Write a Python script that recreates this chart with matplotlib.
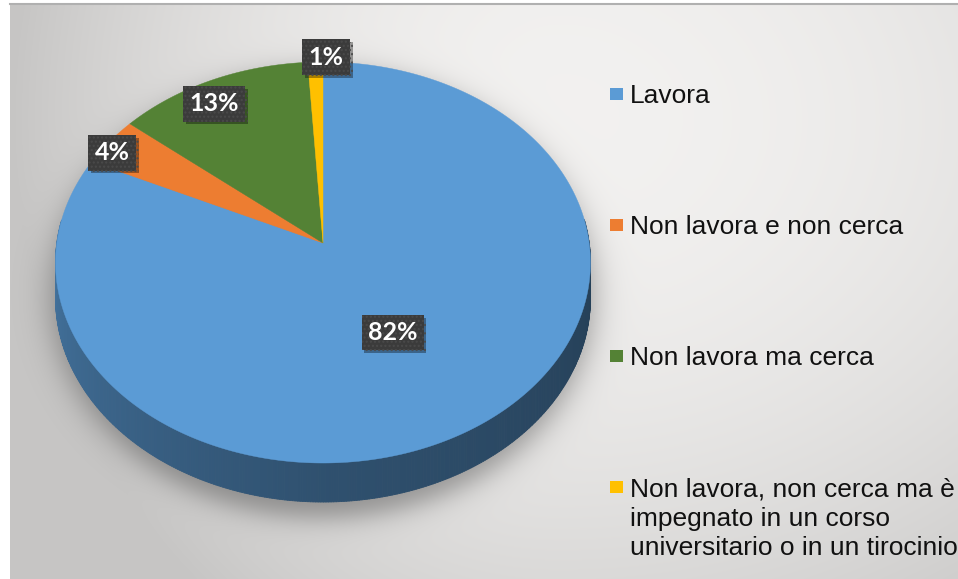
import numpy as np
import matplotlib.pyplot as plt
from matplotlib.collections import PolyCollection
from matplotlib.patches import Polygon, Rectangle
import matplotlib.patheffects as pe
from matplotlib.colors import to_rgb

categories = ['Lavora',
              'Non lavora e non cerca',
              'Non lavora ma cerca',
              'Non lavora, non cerca ma è\nimpegnato in un corso\nuniversitario o in un tirocinio']
shares = [82, 4, 13, 1]
colors = ['#5b9bd5', '#ed7d31', '#548235', '#ffc000']

W, H = 958, 579

# tilted disc seen in perspective: unit circle (u, v) -> pixel coords
CX, K = 323.0, 0.0973
Y0, YV = 243.0, -174.97
RX = 266.2
DEPTH = 35.2


def project(u, v, drop=0.0):
    den = 1 + K * v
    return CX + RX * u / den, (Y0 + drop + YV * v) / den


fig = plt.figure(figsize=(W / 100, H / 100), dpi=100, facecolor='white')
ax = fig.add_axes([0, 0, 1, 1])
ax.set_xlim(0, W)
ax.set_ylim(H, 0)
ax.axis('off')

# grey radial background with the soft shadow under the pie
gx, gy = np.meshgrid(np.arange(10, W) + 0.5, np.arange(4, H) + 0.5)
sx = np.where(gx < 560, 620, 900)
d2 = ((gx - 560) / sx) ** 2 + ((gy - 120) / 700) ** 2
bg = np.clip(0.95 - 0.22 * d2, 0.78, 1.0)
r = np.sqrt(((gx - 323) / 271) ** 2 + ((gy - 294) / 224) ** 2)
shade = 0.34 / (1 + np.exp((r - 1.0) / 0.035))
bg = bg * (1 - shade)
rgb = np.dstack([bg, bg * 0.995, bg * 0.99])
ax.imshow(rgb, extent=(10, W, H, 4), origin='upper', interpolation='bilinear',
          zorder=0, aspect='auto')
ax.plot([10, W], [4, 4], color='#b0b0b0', lw=1.5, zorder=1)

fracs = np.array(shares) / sum(shares)
ends = 90 - 360 * np.cumsum(fracs)
starts = ends + 360 * fracs

# side wall of the disc
quads, qcols = [], []
for a0, a1, col in zip(starts, ends, colors):
    base = np.array(to_rgb(col))
    ts = np.linspace(a0, a1, max(int(abs(a0 - a1) * 2), 2))
    for t0, t1 in zip(ts[:-1], ts[1:]):
        tm = (t0 + t1) / 2
        if np.sin(np.radians(tm)) > 0.12:
            continue
        s = tm % 360
        if s < 90:
            s += 360
        f = np.interp(s, [180, 230, 270, 360], [0.74, 0.62, 0.52, 0.40])
        p0 = project(np.cos(np.radians(t0)), np.sin(np.radians(t0)))
        p1 = project(np.cos(np.radians(t1)), np.sin(np.radians(t1)))
        q1 = project(np.cos(np.radians(t1)), np.sin(np.radians(t1)), DEPTH)
        q0 = project(np.cos(np.radians(t0)), np.sin(np.radians(t0)), DEPTH)
        quads.append([p0, p1, q1, q0])
        qcols.append(base * f)
ax.add_collection(PolyCollection(quads, facecolors=qcols, edgecolors=qcols,
                                 linewidths=0.6, zorder=2))

# top faces
for a0, a1, col in zip(starts, ends, colors):
    ts = np.radians(np.linspace(a0, a1, max(int(abs(a0 - a1) * 2), 3)))
    pts = [project(0, 0)] + [project(np.cos(t), np.sin(t)) for t in ts]
    ax.add_patch(Polygon(pts, closed=True, facecolor=col, edgecolor=col,
                         lw=0.3, zorder=3))

# data labels: radius and small angular nudge from each slice's middle
label_r = [0.50, 0.955, 0.87, 1.03]
label_turn = [-2.3, 2.6, 3.3, -2.5]
for share, a0, a1, rr, dt in zip(shares, starts, ends, label_r, label_turn):
    mid = np.radians((a0 + a1) / 2 + dt)
    x, y = project(rr * np.cos(mid), rr * np.sin(mid))
    t = ax.text(x, y, f'{share}%', ha='center', va='center', color='white',
                fontsize=18, fontweight='bold', family=['Lato', 'DejaVu Sans'],
                zorder=5,
                bbox=dict(boxstyle='square,pad=0.25', facecolor='#3b3b3b',
                          edgecolor='#4a4a4a', hatch='....', linewidth=0))
    t.get_bbox_patch().set_path_effects(
        [pe.withSimplePatchShadow(offset=(2, -2), shadow_rgbFace='black', alpha=0.35)])

# legend
legend_y = [94, 225, 356, 487]
line_step = 29.5
for cat, col, y in zip(categories, colors, legend_y):
    ax.add_patch(Rectangle((610, y - 6), 13, 12, facecolor=col, edgecolor='none', zorder=4))
    extra = cat.count('\n') * line_step
    ax.text(630, y + 9 + extra, cat, ha='left', va='baseline', fontsize=19,
            family=['Liberation Sans', 'DejaVu Sans'], color='#111111',
            linespacing=1.285, zorder=4)

fig.savefig('out.png', dpi=100, facecolor='white')
